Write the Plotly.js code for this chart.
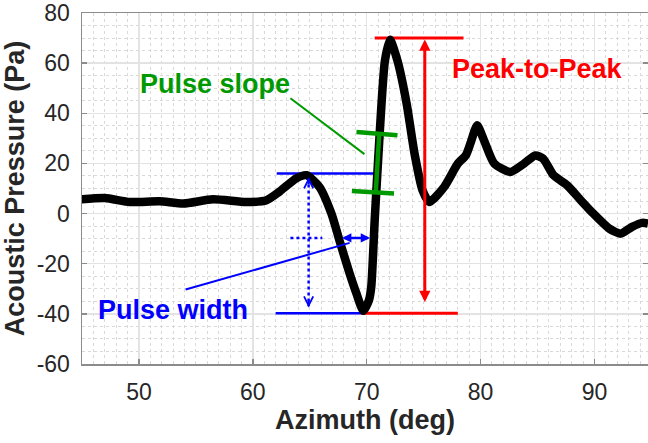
<!DOCTYPE html>
<html>
<head>
<meta charset="utf-8">
<script src="https://cdn.plot.ly/plotly-3.0.1.min.js"></script>
<style>html,body{margin:0;padding:0;background:#fff;}#chart{width:648px;height:443px;}</style>
</head>
<body>
<div id="chart"></div>
<script>
// Azimuth (deg) and acoustic pressure (Pa)
const azimuth = [44.8,47.0,49.2,51.8,53.9,56.5,59.4,61.2,62.3,63.8,64.7,65.85,66.9,67.6,68.5,69.1,69.7,70.2,70.4,70.7,71.0,71.3,71.6,72.05,72.7,73.5,74.2,74.9,75.5,76.8,78.0,78.7,79.1,79.7,80.3,81.2,82.6,83.8,84.8,85.5,86.4,87.6,88.8,89.9,91.3,92.3,93.3,94.2,94.7];
const pressure = [5.6,6.2,4.6,4.9,4.0,5.7,4.6,5.3,8.6,14.0,15.3,10.6,0.0,-10.6,-23.9,-31.9,-38.8,-34.5,-29.2,-2.7,21.2,43.8,61.0,69.3,61.0,44.0,23.9,9.3,4.6,10.6,19.9,23.2,27.9,35.2,29.2,19.9,16.6,19.9,23.2,21.9,15.3,11.3,5.3,0.0,-6.0,-8.0,-5.3,-3.7,-4.0];

// Annotation geometry (data units)
const peakY = 70, troughY = -39.8, pulseTopY = 16;
const widthMarkY = -9.7;
const labels = ["Pulse slope", "Pulse width", "Peak-to-Peak"];
const labelX = [56.7, 53.0, 85.0];
const labelY = [51.8, -38.5, 57.8];
const labelColor = ["#009900", "#0000ff", "#ff0000"];

const xTicks = [50, 60, 70, 80, 90];
const yTicks = [-60, -40, -20, 0, 20, 40, 60, 80];

const font = "Liberation Sans, Arial, sans-serif";

const trace = {
  x: azimuth, y: pressure, type: "scatter", mode: "lines",
  line: {color: "#000000", width: 8.5, shape: "spline", smoothing: 0.6},
  hoverinfo: "skip"
};

function seg(x0, y0, x1, y1, color, width, dash, layer) {
  return {type: "line", xref: "x", yref: "y", x0: x0, y0: y0, x1: x1, y1: y1,
    line: {color: color, width: width, dash: dash || "solid"}, layer: layer || "above"};
}

const shapes = [
  seg(62.1, pulseTopY, 70.8, pulseTopY, "#0000ff", 2.5, "solid", "between"),
  seg(62.0, troughY, 69.5, troughY, "#0000ff", 2.5, "solid", "between"),
  seg(69.5, troughY, 78.0, troughY, "#ff0000", 3, "solid", "between"),
  seg(70.7, peakY, 78.5, peakY, "#ff0000", 3, "solid", "between"),
  seg(64.9, 14, 64.9, -37, "#0000ff", 2.5, "dot"),
  seg(63.3, widthMarkY, 66.1, widthMarkY, "#0000ff", 2.5, "dot"),
  seg(54.1, -30.3, 68.5, -11.7, "#0000ff", 2),
  seg(63.3, 46, 69.8, 23.7, "#009900", 2),
  seg(69.1, 32.5, 72.7, 31.2, "#009900", 4.5),
  seg(68.7, 9.0, 72.4, 8.0, "#009900", 4.5),
  seg(71.1, 32, 70.8, 9, "#009900", 4.5)
];

const annotations = labels.map((t, i) => ({
  x: labelX[i], y: labelY[i], xref: "x", yref: "y", text: "<b>" + t + "</b>",
  showarrow: false, font: {family: font, size: 27, color: labelColor[i]}
}));

function arrow(x, y, ax, ay, color, width, head, size, side) {
  return {x: x, y: y, ax: ax, ay: ay, xref: "x", yref: "y", axref: "x", ayref: "y",
    text: "", showarrow: true, arrowcolor: color, arrowwidth: width, arrowhead: head,
    arrowsize: size, arrowside: side || "end", startarrowhead: head, startarrowsize: size};
}
annotations.push(arrow(75.1, 69.4, 75.1, -35.9, "#ff0000", 3, 2, 0.75, "end+start"));
annotations.push(arrow(70.3, widthMarkY, 67.7, widthMarkY, "#0000ff", 2.5, 2, 0.75, "end+start"));
annotations.push(arrow(64.9, 14.5, 64.9, 11, "#0000ff", 2, 5, 0.9));
annotations.push(arrow(64.9, -37.5, 64.9, -34, "#0000ff", 2, 5, 0.9));

const axisCommon = {
  showline: true, linecolor: "#8c8c8c", linewidth: 1.5,
  ticks: "inside", ticklen: 5, tickwidth: 1.5, tickcolor: "#8c8c8c",
  showgrid: true, gridcolor: "#e3e3e3", gridwidth: 1.5, zeroline: false,
  tickfont: {family: font, size: 23, color: "#262626"}
};

const layout = {
  width: 648, height: 443,
  margin: {l: 82, r: 0, t: 13, b: 79},
  paper_bgcolor: "#ffffff", plot_bgcolor: "#ffffff",
  showlegend: false,
  xaxis: Object.assign({}, axisCommon, {
    range: [45, 94.7], tickvals: xTicks, ticktext: xTicks.map(String), mirror: true,
    ticklabelstandoff: 7,
    minor: {dtick: 1, showgrid: true, gridcolor: "#d9d9d9", gridwidth: 1, griddash: "dot", ticks: ""},
    title: {text: "<b>Azimuth (deg)</b>", font: {family: font, size: 27, color: "#262626"}, standoff: 6}
  }),
  yaxis: Object.assign({}, axisCommon, {
    range: [-60, 80], tickvals: yTicks, ticktext: yTicks.map(String), mirror: "ticks",
    ticklabelstandoff: 6,
    minor: {dtick: 5, showgrid: true, gridcolor: "#d9d9d9", gridwidth: 1, griddash: "dot", ticks: ""},
    title: {text: "<b>Acoustic Pressure (Pa)</b>", font: {family: font, size: 27, color: "#262626"}, standoff: 6}
  }),
  shapes: shapes,
  annotations: annotations
};

Plotly.newPlot("chart", [trace], layout, {staticPlot: true, displayModeBar: false});
</script>
</body>
</html>
